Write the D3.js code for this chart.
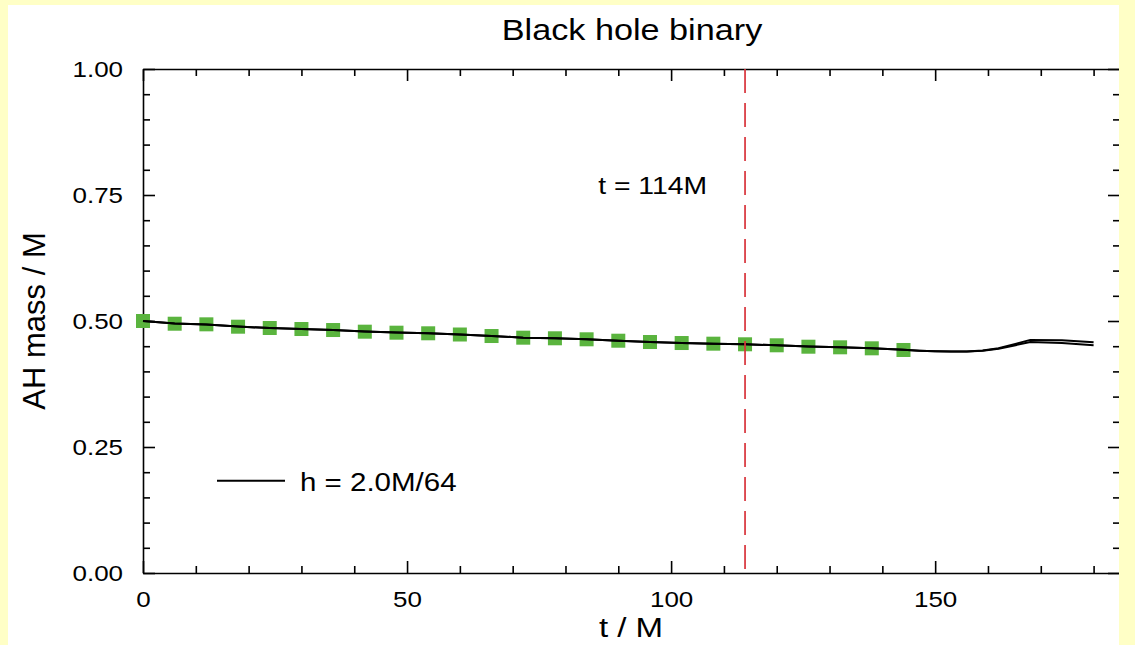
<!DOCTYPE html>
<meta charset="utf-8">

<style>

body {
  margin: 0;
  background: #ffffc6;
}

svg.chart text {
  font-family: "Liberation Sans", Arial, sans-serif;
  fill: black;
}

svg.chart .axis path,
svg.chart .axis line {
  stroke: black;
  stroke-width: 1.6;
}

svg.chart .axis text {
  font-size: 22px;
}

</style>

<svg class="chart" width="1135" height="645"></svg>

<script src="https://d3js.org/d3.v7.min.js"></script>

<script>

// green squares, every 6 M
var squareT = [0, 6, 12, 18, 24, 30, 36, 42, 48, 54, 60, 66, 72, 78, 84, 90, 96, 102, 108, 114, 120, 126, 132, 138, 144];
var squareMass = [0.500, 0.4946, 0.4934, 0.4887, 0.4861, 0.4841, 0.4821, 0.4788, 0.4768, 0.4756, 0.4732, 0.4702, 0.4669,
  0.4657, 0.4637, 0.4609, 0.4583, 0.4563, 0.4550, 0.4538, 0.4518, 0.4490, 0.4478, 0.4458, 0.4425];

// black lines (two horizons, only apart at late times)
var lineT = [0, 6, 12, 18, 24, 30, 36, 42, 48, 54, 60, 66, 72, 78, 84, 90, 96, 102, 108, 114, 120, 126, 132, 138, 144,
  147, 150, 153, 156, 159, 162, 165, 168, 174, 180];
var lineMassA = [0.500, 0.4950, 0.4930, 0.4890, 0.4860, 0.4840, 0.4820, 0.4790, 0.4770, 0.4755, 0.4730, 0.4702, 0.4670,
  0.4657, 0.4637, 0.4610, 0.4585, 0.4565, 0.4550, 0.4538, 0.4518, 0.4492, 0.4478, 0.4458, 0.4428,
  0.4412, 0.4400, 0.4393, 0.4393, 0.4415, 0.4458, 0.4540, 0.4625, 0.4618, 0.4577];
var lineMassB = [0.500, 0.4950, 0.4930, 0.4890, 0.4860, 0.4840, 0.4820, 0.4790, 0.4770, 0.4755, 0.4730, 0.4702, 0.4670,
  0.4657, 0.4637, 0.4610, 0.4585, 0.4565, 0.4550, 0.4538, 0.4518, 0.4492, 0.4478, 0.4458, 0.4428,
  0.4412, 0.4400, 0.4393, 0.4393, 0.4412, 0.4450, 0.4515, 0.4585, 0.4562, 0.4518];

var xTicks = [0, 50, 100, 150];
var xMinorTicks = [10, 20, 30, 40, 60, 70, 80, 90, 110, 120, 130, 140, 160, 170, 180];
var yTicks = [0, 0.25, 0.5, 0.75, 1.0];
var yMinorTicks = [0.05, 0.1, 0.15, 0.2, 0.3, 0.35, 0.4, 0.45, 0.55, 0.6, 0.65, 0.7, 0.8, 0.85, 0.9, 0.95];

var mergerT = 114;
var titleText = "Black hole binary";
var xLabel = "t / M";
var yLabel = "AH mass / M";
var legendLabel = "h = 2.0M/64";
var mergerLabel = "t = 114M";

var svg = d3.select("svg.chart");
var margin = {top: 69, left: 143};
var width = 977;
var height = 504;
var stretch = 1.18;   // text in the original is a little wide

svg.append("rect")
  .attr("x", 8).attr("y", 5)
  .attr("width", 1111).attr("height", 640)
  .attr("fill", "white");

var chart = svg.append("g")
  .attr("transform", `translate(${margin.left},${margin.top})`);

var x = d3.scaleLinear().domain([0, 185]).range([0, width]);
var y = d3.scaleLinear().domain([0, 1]).range([height, 0]);

// Axes: ticks point inward on all four sides
chart.append("g")
  .attr("class", "x axis")
  .attr("transform", `translate(0,${height})`)
  .call(d3.axisBottom(x).tickValues(xTicks).tickSizeInner(-12).tickSizeOuter(0).tickFormat(d3.format("d")))
  .selectAll("text")
    .attr("y", null)
    .attr("dy", null)
    .attr("transform", `translate(0,34) scale(${stretch},1)`);

chart.append("g")
  .attr("class", "x axis")
  .attr("transform", `translate(0,${height})`)
  .call(d3.axisBottom(x).tickValues(xMinorTicks).tickSize(-7).tickFormat(""))
  .select(".domain").remove();

chart.append("g")
  .attr("class", "x axis")
  .call(d3.axisTop(x).tickValues(xTicks).tickSizeInner(-12).tickSizeOuter(0).tickFormat(""));

chart.append("g")
  .attr("class", "x axis")
  .call(d3.axisTop(x).tickValues(xMinorTicks).tickSize(-7).tickFormat(""))
  .select(".domain").remove();

chart.append("g")
  .attr("class", "y axis")
  .call(d3.axisLeft(y).tickValues(yTicks).tickSizeInner(-12).tickSizeOuter(0).tickFormat(d3.format(".2f")))
  .selectAll("text")
    .attr("x", null)
    .attr("dy", "0.36em")
    .attr("transform", `translate(-20,0) scale(${stretch},1)`);

chart.append("g")
  .attr("class", "y axis")
  .call(d3.axisLeft(y).tickValues(yMinorTicks).tickSize(-7).tickFormat(""))
  .select(".domain").remove();

chart.append("g")
  .attr("class", "y axis")
  .attr("transform", `translate(${width},0)`)
  .call(d3.axisRight(y).tickValues(yTicks).tickSizeInner(-12).tickSizeOuter(0).tickFormat(""));

chart.append("g")
  .attr("class", "y axis")
  .attr("transform", `translate(${width},0)`)
  .call(d3.axisRight(y).tickValues(yMinorTicks).tickSize(-7).tickFormat(""))
  .select(".domain").remove();

// Squares
var squareData = squareT.map(function(t, i) { return {t: t, mass: squareMass[i]}; });
var side = 14;

chart.selectAll(".square")
  .data(squareData)
  .enter().append("rect")
    .attr("class", "square")
    .attr("x", function(d) { return x(d.t) - side / 2; })
    .attr("y", function(d) { return y(d.mass) - side / 2; })
    .attr("width", side)
    .attr("height", side)
    .attr("fill", "#5ab43e");

// Lines
var line = d3.line()
  .x(function(d) { return x(d.t); })
  .y(function(d) { return y(d.mass); });

[lineMassA, lineMassB].forEach(function(series) {
  var pts = lineT.map(function(t, i) { return {t: t, mass: series[i]}; });
  chart.append("path")
    .datum(pts)
    .attr("d", line)
    .attr("fill", "none")
    .attr("stroke", "black")
    .attr("stroke-width", 2);
});

// Merger marker
chart.append("line")
  .attr("x1", x(mergerT)).attr("x2", x(mergerT))
  .attr("y1", y(1)).attr("y2", y(0))
  .attr("stroke", "#d8333b")
  .attr("stroke-width", 1.7)
  .attr("stroke-dasharray", "24,10");

chart.append("text")
  .attr("transform", `translate(${x(mergerT) - 38},${y(0.75) - 1}) scale(${stretch},1)`)
  .attr("text-anchor", "end")
  .style("font-size", "24px")
  .text(mergerLabel);

// Legend
chart.append("line")
  .attr("x1", 74).attr("x2", 142)
  .attr("y1", y(0.183)).attr("y2", y(0.183))
  .attr("stroke", "black")
  .attr("stroke-width", 1.8);

chart.append("text")
  .attr("transform", `translate(157,${y(0.183) + 10}) scale(${stretch},1)`)
  .style("font-size", "25px")
  .text(legendLabel);

// Titles
svg.append("text")
  .attr("transform", `translate(632,40) scale(${stretch},1)`)
  .attr("text-anchor", "middle")
  .style("font-size", "29px")
  .text(titleText);

svg.append("text")
  .attr("transform", `translate(631,637) scale(${stretch},1)`)
  .attr("text-anchor", "middle")
  .style("font-size", "28px")
  .text(xLabel);

svg.append("text")
  .attr("transform", `translate(45,${margin.top + y(0.5)}) rotate(-90)`)
  .attr("text-anchor", "middle")
  .style("font-size", "31px")
  .text(yLabel);

// yellow frame on the right hides the far axis line
svg.append("rect")
  .attr("x", 1119).attr("y", 0)
  .attr("width", 16).attr("height", 645)
  .attr("fill", "#ffffc6");

</script>
